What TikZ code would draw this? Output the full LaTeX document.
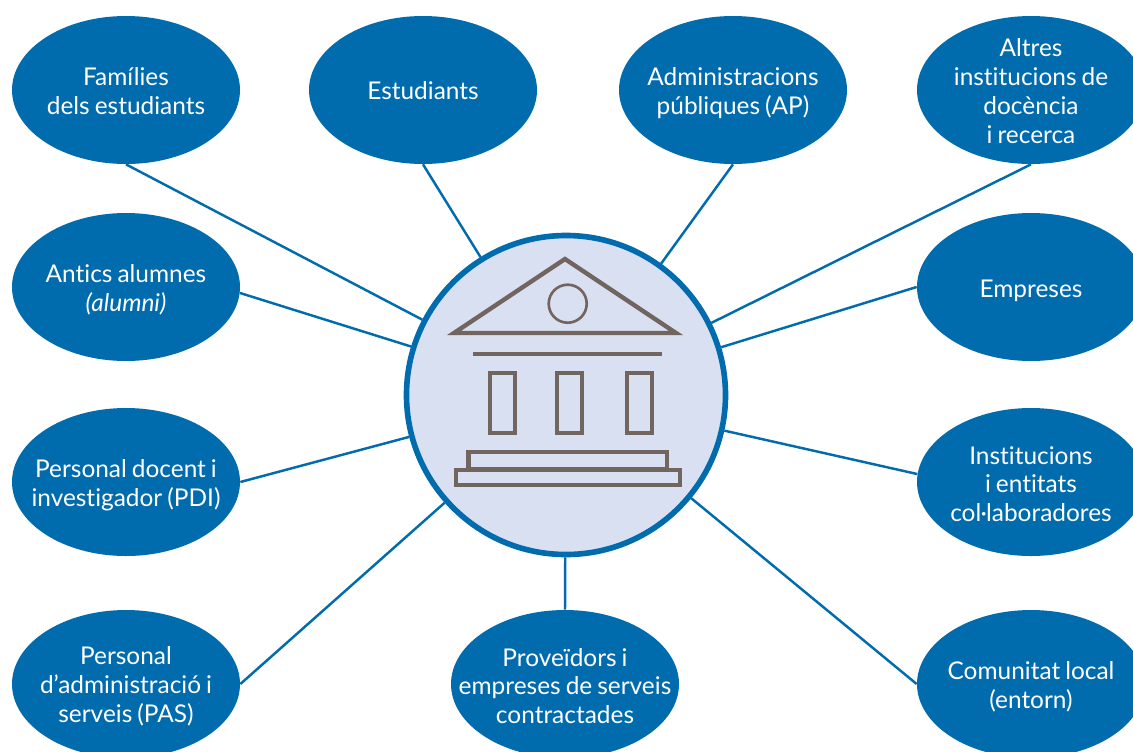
\documentclass[tikz,border=0pt]{standalone}
\usepackage{fontspec}
\setmainfont[Ligatures=NoCommon,WordSpace=0.8]{Lato}
\usetikzlibrary{shapes}
\definecolor{blau}{HTML}{006BAD}
\definecolor{fons}{HTML}{D9E0F1}
\definecolor{marro}{HTML}{72655F}

\begin{document}
\begin{tikzpicture}[x=0.2mm,y=-0.2mm]
\clip (0,0) rectangle (1133,751);
\begin{scope}
\tikzstyle{grup}=[shape=ellipse, fill=blau, text=white, inner sep=-3cm, minimum width=4.56cm, minimum height=2.96cm, align=center, font=\fontsize{13.9}{16.4}\selectfont];
\tikzstyle{linia}=[draw=blau, line width=1.4pt];

\draw (566,395) node[shape=circle, draw=blau, fill=fons, line width=3.2pt, inner sep=0pt, minimum size=6.38cm] (hub) {};

\draw (126,90) node[grup, text height=27.8pt] (fam) {Famílies\\dels estudiants};
\draw (423,90) node[grup, text height=11.4pt] (est) {Estudiants};
\draw (733,90) node[grup, text height=30.1pt] (ap) {Administracions\\públiques (AP)};
\draw (1031,90) node[grup, text height=60.6pt] (alt) {Altres\\institucions de\\docència\\i recerca};
\draw (126,287) node[grup, text height=30.1pt] (ant) {Antics alumnes\\\textit{(alumni)}};
\draw (1031,287) node[grup, text height=14.8pt] (emp) {Empreses};
\draw (126,482) node[grup, text height=30.7pt] (pdi) {Personal docent i\\investigador (PDI)};
\draw (1031,482) node[grup, text height=45.4pt] (ins) {Institucions\\i entitats\\col·laboradores};
\draw (126,684) node[grup, text height=45.4pt] (pas) {Personal\\d’administració i\\serveis (PAS)};
\draw (565,684) node[grup, text height=45.4pt] (pro) {Proveïdors i\\empreses de serveis\\contractades};
\draw (1031,684) node[grup, text height=30.1pt] (com) {Comunitat local\\(entorn)};

\draw[linia] (fam.south) -- (hub)
(est.south) -- (hub)
(ap.south) -- (hub)
(alt.south) -- (hub)
(ant.-3) -- (hub)
(emp.west) -- (hub)
(pdi.east) -- (hub)
(ins.176) -- (hub)
(pas.east) -- (hub)
(pro.north) -- (hub)
(com.west) -- (hub);

% edifici
\begin{scope}[draw=marro, line width=2.5pt]
\draw (565,259) -- (676,333) -- (454,333) -- cycle;
\draw[line width=1.5pt] (567.7,303.7) circle[radius=19];
\draw[line width=2.8pt] (473,354) -- (662,354);
\draw[line width=2.1pt] (489.7,372.7) rectangle (515.3,433);
\draw[line width=2.1pt] (556.7,372.7) rectangle (582.3,433);
\draw[line width=2.1pt] (626.7,372.7) rectangle (652.3,433);
\draw (468.3,452) rectangle (666.7,469);
\draw (456,470) rectangle (680,485);
\end{scope}
\end{scope}
\end{tikzpicture}
\end{document}
